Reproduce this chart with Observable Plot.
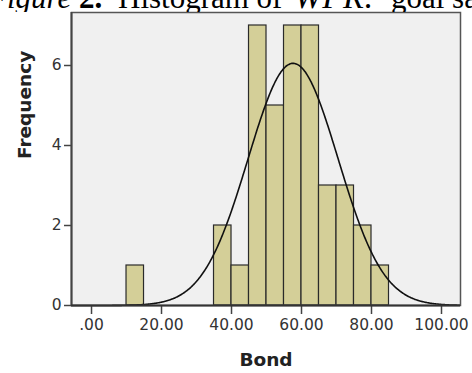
<!DOCTYPE html>
<html>
<head>
<meta charset="utf-8">
<script src="https://cdn.jsdelivr.net/npm/d3@7"></script>
<script src="https://cdn.jsdelivr.net/npm/@observablehq/plot@0.6"></script>
<style>
  html, body { margin: 0; padding: 0; background: #fff; }
  #wrap { position: relative; width: 472px; height: 373px; overflow: hidden; }
  #chart { position: absolute; left: 0; top: 0; }
  #cap { position: absolute; left: 0; top: 0; overflow: hidden; }
</style>
</head>
<body>
<div id="wrap">
  <div id="chart"></div>
  <svg id="cap" width="472" height="12" font-family="Liberation Serif, Times New Roman, serif" font-size="31" fill="#000">
    <text y="7.5"><tspan x="-12" font-style="italic">Figure</tspan><tspan x="79" font-weight="bold">2.</tspan><tspan x="118">Histogram of</tspan><tspan x="294" font-style="italic" font-size="34">WPR:</tspan><tspan x="391">goal sa</tspan></text>
  </svg>
</div>
<script>
// Histogram bins (lower edges), bin width and counts
const binStarts = [10, 35, 40, 45, 50, 55, 60, 65, 70, 75, 80];
const counts    = [1,  2,  1,  7,  5,  7,  7,  3,  3,  2,  1];
const binWidth = 5;
// Fitted normal curve parameters
const curveMean = 57.6;
const curveSD = 12.85;
const xTicks = [0, 20, 40, 60, 80, 100];
const yTicks = [0, 2, 4, 6];

const bars = binStarts.map((s, i) => ({x1: s, x2: s + binWidth, count: counts[i]}));
const N = d3.sum(counts);
const xDomain = [-5.72, 105.43];
const curve = d3.range(xDomain[0], xDomain[1] + 0.01, 0.25).map(x => ({
  x,
  y: N * binWidth / (curveSD * Math.sqrt(2 * Math.PI)) * Math.exp(-0.5 * ((x - curveMean) / curveSD) ** 2)
}));

const fmt = d => d === 0 ? ".00" : d.toFixed(2);

const chart = Plot.plot({
  width: 472,
  height: 373,
  marginLeft: 71,
  marginRight: 12,
  marginTop: 12,
  marginBottom: 68,
  style: {fontFamily: "DejaVu Sans", fontSize: "15px", color: "#333", background: "transparent", overflow: "visible"},
  x: {domain: xDomain},
  y: {domain: [0, 7.325]},
  marks: [
    Plot.frame({fill: "#f0f0f0", stroke: "none"}),
    Plot.rectY(bars, {x1: "x1", x2: "x2", y: "count", fill: "#d4cf98", stroke: "#2a2a2a", strokeWidth: 1.2, insetLeft: 0, insetRight: 0}),
    Plot.line(curve, {x: "x", y: "y", stroke: "#111", strokeWidth: 1.6, curve: "natural"}),
    Plot.frame({stroke: "#555", strokeWidth: 1.5}),
    Plot.axisY({ticks: yTicks, tickSize: 7, tickPadding: 3, tickFormat: d => String(d), stroke: "#444", strokeWidth: 1.5, label: null, fontSize: 15.5}),
    Plot.axisX({ticks: xTicks, tickSize: 9, tickPadding: 4, tickFormat: fmt, stroke: "#444", strokeWidth: 1.5, label: null, fontSize: 15.5}),
    Plot.ruleX([xDomain[0]], {stroke: "#444", strokeWidth: 2}),
    Plot.ruleY([0], {stroke: "#333", strokeWidth: 2}),
    Plot.text(["Bond"], {frameAnchor: "bottom", dy: 60, fontWeight: "bold", fontSize: 18.5, fill: "#222", lineAnchor: "bottom"}),
    Plot.text(["Frequency"], {frameAnchor: "left", dx: -46, rotate: -90, fontWeight: "bold", fontSize: 18.5, fill: "#222"})
  ]
});
document.getElementById("chart").appendChild(chart);
</script>
</body>
</html>
